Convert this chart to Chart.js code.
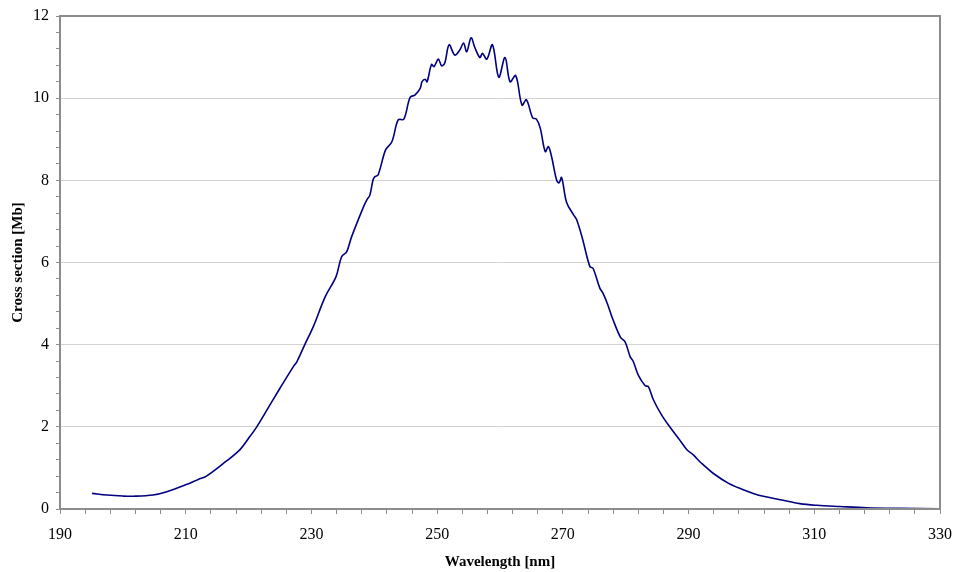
<!DOCTYPE html>
<html>
<head>
<meta charset="utf-8">
<script src="https://cdn.jsdelivr.net/npm/chart.js@4/dist/chart.umd.min.js"></script>
<style>
  html, body { margin: 0; padding: 0; background: #ffffff; }
  #wrap { width: 955px; height: 572px; position: relative; }
</style>
</head>
<body>
<div id="wrap"><canvas id="c" width="955" height="572"></canvas></div>
<script>
// Wavelength [nm] of each read point
const wavelengths = [
  195.1, 197.5, 200.0, 201.6, 204.8, 207.0, 210.2, 212.0, 213.3, 216.5,
  218.6, 220.0, 221.3, 223.0, 225.0, 227.1, 227.7, 229.0, 230.3,
  232.2, 233.9, 234.8, 235.6, 236.4, 238.3, 238.8, 239.3, 239.8, 240.1,
  240.6, 241.8, 242.8, 243.8, 244.7, 245.7, 246.5, 247.3, 247.6, 248.1,
  248.4, 249.1, 249.5, 250.2, 250.7, 251.2, 251.9, 252.8, 253.6, 254.2,
  254.7, 255.4, 256.0, 256.8, 257.2, 257.9, 258.8, 259.8, 260.8, 261.6,
  262.5, 263.5, 264.2, 265.2, 265.8, 266.4, 267.2, 267.7, 268.2, 269.0,
  269.4, 269.8, 270.6, 271.7, 272.2, 273.1, 274.3, 274.8, 275.9, 276.4,
  277.1, 278.0, 279.2, 279.9, 280.7, 281.2, 282.0, 283.1, 283.6, 284.4,
  285.7, 287.0, 288.5, 289.7, 290.8, 291.8, 292.4, 293.9, 296.3, 298.5,
  300.3, 301.9, 304.8, 307.7, 310.4, 314.1, 318.3, 323.6, 330.0
];
// Cross section [Mb] at each wavelength
const crossSection = [
  0.38, 0.34, 0.315, 0.31, 0.34, 0.42, 0.60, 0.72, 0.80, 1.17,
  1.44, 1.72, 2.00, 2.43, 2.94, 3.46, 3.59, 4.02, 4.44,
  5.17, 5.65, 6.14, 6.26, 6.63, 7.36, 7.52, 7.64, 8.01, 8.09,
  8.13, 8.74, 8.94, 9.47, 9.49, 10.02, 10.08, 10.24, 10.40, 10.46,
  10.40, 10.82, 10.77, 10.95, 10.79, 10.85, 11.30, 11.05, 11.17, 11.34,
  11.13, 11.47, 11.23, 10.99, 11.09, 10.95, 11.30, 10.51, 10.99, 10.40,
  10.55, 9.83, 9.96, 9.52, 9.49, 9.27, 8.70, 8.82, 8.58, 8.01,
  7.94, 8.07, 7.46, 7.16, 7.04, 6.59, 5.90, 5.86, 5.37, 5.25,
  4.99, 4.60, 4.17, 4.07, 3.71, 3.59, 3.26, 3.00, 2.98, 2.66,
  2.29, 2.00, 1.70, 1.45, 1.31, 1.15, 1.07, 0.87, 0.63, 0.48,
  0.38, 0.31, 0.22, 0.13, 0.09, 0.06, 0.03, 0.015, 0.005
];
// Axis ranges and tick labels
const xTickLabels = [190, 210, 230, 250, 270, 290, 310, 330];
const yTickLabels = [0, 2, 4, 6, 8, 10, 12];
const xTitle = 'Wavelength [nm]';
const yTitle = 'Cross section [Mb]';

const points = wavelengths.map((w, i) => ({ x: w, y: crossSection[i] }));
const isLabel = (list, v) => list.some(t => Math.abs(t - v) < 1e-6);

const frame = {
  id: 'frame',
  afterDatasetsDraw(chart) {
    const a = chart.chartArea, ctx = chart.ctx;
    ctx.save();
    ctx.strokeStyle = '#8c8c8c';
    ctx.lineWidth = 2;
    ctx.strokeRect(a.left, a.top, a.right - a.left, a.bottom - a.top);
    ctx.restore();
  }
};

new Chart(document.getElementById('c'), {
  type: 'scatter',
  data: {
    datasets: [{
      data: points,
      showLine: true,
      borderColor: '#000080',
      borderWidth: 1.6,
      pointRadius: 0,
      tension: 0.35,
      fill: false
    }]
  },
  options: {
    responsive: false,
    animation: false,
    devicePixelRatio: 1,
    layout: { padding: { left: 0, right: 15, top: 16, bottom: 0 } },
    plugins: { legend: { display: false }, tooltip: { enabled: false } },
    scales: {
      x: {
        type: 'linear',
        min: 190, max: 330,
        afterFit(s) { s.height = 63; s.paddingLeft = 0; s.paddingRight = 0; },
        border: { display: true, color: '#8c8c8c', width: 2 },
        grid: { drawOnChartArea: false, drawTicks: true, tickLength: 5, color: '#8c8c8c' },
        ticks: {
          stepSize: 4, autoSkip: false, maxRotation: 0, padding: 11,
          color: '#000',
          font: { family: 'Liberation Serif', size: 16 },
          callback: v => isLabel(xTickLabels, v) ? String(Math.round(v)) : ''
        },
        title: {
          display: true, text: xTitle, color: '#000',
          font: { family: 'Liberation Serif', size: 15, weight: 'bold' },
          padding: { top: 0, bottom: 1 }
        }
      },
      y: {
        type: 'linear',
        min: 0, max: 12,
        afterFit(s) { s.width = 60; s.paddingTop = 0; s.paddingBottom = 0; },
        border: { display: true, color: '#8c8c8c', width: 2 },
        grid: {
          drawOnChartArea: true, drawTicks: true, tickLength: 4,
          color: c => isLabel(yTickLabels, c.tick.value) ? '#d3d3d3' : 'rgba(0,0,0,0)',
          tickColor: '#8c8c8c'
        },
        ticks: {
          stepSize: 0.4, autoSkip: false, padding: 7,
          color: '#000',
          font: { family: 'Liberation Serif', size: 16 },
          callback: v => isLabel(yTickLabels, v) ? String(Math.round(v)) : ''
        },
        title: {
          display: true, text: yTitle, color: '#000',
          font: { family: 'Liberation Serif', size: 15, weight: 'bold' },
          padding: { top: 9, bottom: 0 }
        }
      }
    }
  },
  plugins: [frame]
});
</script>
</body>
</html>
